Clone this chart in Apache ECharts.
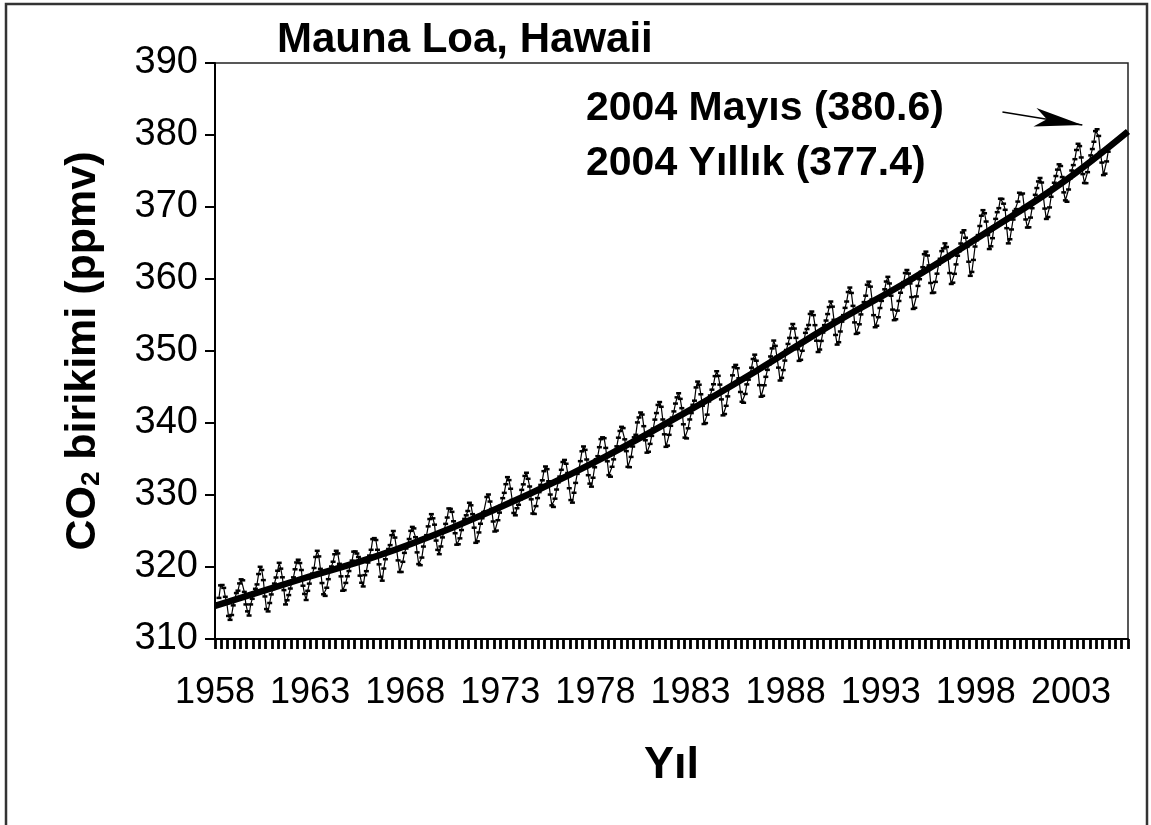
<!DOCTYPE html>
<html>
<head>
<meta charset="utf-8">
<script src="https://cdn.jsdelivr.net/npm/echarts@6/dist/echarts.min.js"></script>
<style>
  html, body { margin: 0; padding: 0; background: #fff; }
  #chart { width: 1151px; height: 825px; }
</style>
</head>
<body>
<div id="chart"></div>
<script>
// aylik CO2 (ppmv), Mauna Loa, 1958 Mart - 2004 Aralik
const startYear = 1958
const startMonth = 3
const monthlyCO2 = [
  315.71, 317.45, 317.50, 317.10, 315.86, 314.93, 313.20, 312.66, 313.33, 314.67, // 1958
  315.62, 316.38, 316.71, 317.72, 318.29, 318.15, 316.54, 314.80, 313.84, 313.26, 314.80, 315.58, // 1959
  316.43, 316.97, 317.58, 319.02, 320.03, 319.59, 318.18, 315.91, 314.16, 313.83, 315.00, 316.19,
  316.93, 317.70, 318.54, 319.48, 320.58, 319.77, 318.57, 316.79, 314.80, 315.38, 316.10, 317.01,
  317.94, 318.56, 319.68, 320.63, 321.01, 320.55, 319.58, 317.40, 316.26, 315.42, 316.69, 317.69,
  318.74, 319.08, 319.86, 321.39, 322.25, 321.47, 319.74, 317.77, 316.21, 315.99, 317.12, 318.31, // 1963
  319.57, 320.07, 320.73, 321.77, 322.25, 321.89, 320.44, 318.70, 316.70, 316.79, 317.79, 318.71,
  319.44, 320.44, 320.89, 322.13, 322.16, 321.87, 321.39, 318.80, 317.81, 317.30, 318.87, 319.42,
  320.62, 321.59, 322.39, 323.87, 324.01, 323.75, 322.39, 320.37, 318.64, 318.10, 319.79, 321.08,
  322.07, 322.50, 323.04, 324.42, 325.00, 324.09, 322.55, 320.92, 319.31, 319.31, 320.72, 321.96,
  322.57, 323.15, 323.89, 325.02, 325.57, 325.36, 324.14, 322.03, 320.41, 320.25, 321.31, 322.84, // 1968
  324.00, 324.42, 325.64, 326.66, 327.34, 326.76, 325.88, 323.67, 322.38, 321.78, 322.85, 324.11,
  325.03, 325.99, 326.87, 328.13, 328.07, 327.66, 326.35, 324.69, 323.10, 323.16, 323.98, 325.13,
  326.17, 326.68, 327.18, 327.78, 328.92, 328.57, 327.34, 325.46, 323.36, 323.57, 324.80, 326.01,
  326.77, 327.63, 327.75, 329.72, 330.07, 329.09, 328.05, 326.32, 324.93, 325.06, 326.50, 327.55,
  328.54, 329.56, 330.30, 331.50, 332.48, 332.07, 330.87, 329.31, 327.51, 327.18, 328.16, 328.64, // 1973
  329.35, 330.71, 331.48, 332.65, 333.09, 332.25, 331.18, 329.40, 327.43, 327.37, 328.46, 329.57,
  330.40, 331.40, 332.04, 333.31, 333.96, 333.59, 331.91, 330.06, 328.56, 328.34, 329.49, 330.76,
  331.75, 332.56, 333.50, 334.58, 334.87, 334.34, 333.05, 330.94, 329.30, 328.94, 330.31, 331.68,
  332.93, 333.42, 334.70, 336.07, 336.74, 336.27, 334.93, 332.75, 331.58, 331.16, 332.40, 333.85,
  334.97, 335.39, 336.64, 337.76, 338.01, 337.89, 336.54, 334.68, 332.76, 332.54, 333.92, 334.95, // 1978
  336.23, 336.76, 337.96, 338.89, 339.47, 339.29, 337.73, 336.09, 333.91, 333.86, 335.29, 336.73,
  338.01, 338.36, 340.08, 340.77, 341.46, 341.17, 339.56, 337.60, 335.88, 336.01, 337.10, 338.21,
  339.23, 340.47, 341.38, 342.51, 342.91, 342.25, 340.49, 338.43, 336.69, 336.86, 338.36, 339.61,
  340.75, 341.61, 342.70, 343.56, 344.13, 343.35, 342.06, 339.82, 337.97, 337.86, 339.26, 340.49,
  341.38, 342.52, 343.10, 344.94, 345.75, 345.32, 343.99, 342.39, 339.86, 339.99, 341.16, 342.99, // 1983
  343.82, 344.63, 345.38, 346.51, 347.19, 346.55, 345.33, 343.28, 341.06, 341.25, 342.39, 343.70,
  344.92, 345.25, 346.62, 347.75, 348.07, 347.61, 346.21, 344.31, 342.95, 342.81, 344.04, 345.36,
  346.02, 346.77, 347.68, 348.89, 349.49, 348.65, 347.39, 345.26, 343.65, 343.78, 345.24, 346.41,
  347.38, 348.12, 349.24, 350.36, 351.45, 350.71, 349.20, 347.69, 345.90, 346.27, 347.35, 348.67,
  350.14, 350.98, 351.82, 353.13, 353.75, 353.12, 351.82, 350.24, 348.63, 348.78, 350.03, 351.34, // 1988
  352.52, 353.05, 353.61, 355.15, 355.48, 354.98, 353.59, 351.43, 349.86, 350.20, 351.40, 352.56,
  353.59, 354.23, 355.13, 356.10, 356.87, 356.16, 354.33, 352.23, 350.89, 351.22, 352.71, 354.08,
  354.98, 355.99, 356.87, 358.19, 358.81, 358.06, 356.27, 353.97, 352.37, 352.52, 353.71, 355.08,
  356.11, 356.79, 357.68, 359.20, 359.63, 358.94, 357.16, 354.98, 353.30, 353.51, 354.69, 355.97,
  356.96, 357.68, 358.57, 359.65, 360.30, 359.38, 357.68, 355.75, 354.28, 354.41, 355.61, 356.95, // 1993
  358.09, 358.85, 359.57, 360.83, 361.25, 360.76, 359.38, 357.49, 355.84, 356.00, 357.58, 359.04,
  359.97, 361.00, 361.64, 363.45, 363.80, 363.26, 361.89, 359.45, 358.05, 358.12, 359.60, 360.74,
  362.00, 362.81, 363.87, 364.25, 364.95, 364.45, 362.86, 360.83, 359.31, 359.49, 360.72, 362.03,
  363.23, 363.86, 364.93, 366.46, 366.77, 365.73, 364.46, 362.40, 360.44, 360.98, 362.65, 364.51,
  365.39, 366.10, 367.36, 368.79, 369.56, 369.13, 367.98, 366.10, 364.16, 364.54, 365.67, 367.30, // 1998
  368.35, 369.28, 369.84, 371.15, 371.12, 370.46, 369.61, 367.06, 364.95, 365.52, 366.88, 368.26,
  369.45, 369.71, 370.75, 371.98, 371.75, 371.87, 370.02, 368.27, 367.15, 367.18, 368.53, 369.83,
  370.76, 371.69, 372.63, 373.55, 374.03, 373.40, 371.68, 369.78, 368.34, 368.61, 369.94, 371.42,
  372.70, 373.37, 374.30, 375.19, 375.93, 375.69, 374.16, 372.03, 370.92, 370.73, 372.43, 373.98,
  375.07, 375.82, 376.64, 377.92, 378.78, 378.46, 376.88, 374.57, 373.34, 373.31, 374.84, 376.17, // 2003
  377.17, 378.05, 379.06, 380.54, 380.80, 379.87, 377.65, 376.17, 374.43, 374.63, 376.33, 377.68  // 2004
]

// kalin egilim cizgisi
const trendYears  = [1958.0, 1962.5, 1966.5, 1970.5, 1974.5, 1978.5, 1982.5, 1986.5, 1990.5, 1994.5, 1998.5, 2002.5, 2006.0]
const trendValues = [314.6, 318.3, 321.5, 325.5, 330.1, 335.3, 341.1, 347.3, 353.8, 359.8, 366.4, 373.3, 380.5]

const yearLabels = [1958, 1963, 1968, 1973, 1978, 1983, 1988, 1993, 1998, 2003]

// ok: 2004 Mayis
const arrowFrom = [1999.4, 383.2]
const arrowTo = [2003.6, 381.4]

const FONT = '"Liberation Sans", Arial, sans-serif'

const monthlyPoints = monthlyCO2.map((v, i) => {
  const m = startMonth - 1 + i
  return [startYear + (m + 0.5) / 12, v]
})
const trendPoints = trendYears.map((t, i) => [t, trendValues[i]])

// her 4 ayda bir tik
const tickValues = []
for (let k = 0; k <= 144; k++) tickValues.push(1958 + k / 3)

const chart = echarts.init(document.getElementById('chart'))

const option = {
  backgroundColor: '#fff',
  animation: false,
  title: {
    text: 'Mauna Loa, Hawaii',
    left: 272,
    top: 14,
    textStyle: { fontFamily: FONT, fontSize: 42, fontWeight: 'bold', color: '#000' }
  },
  grid: {
    left: 215,
    right: 23,
    top: 63,
    bottom: 186,
    show: true,
    borderColor: '#222',
    borderWidth: 1.5,
    backgroundColor: '#fff'
  },
  xAxis: {
    type: 'value',
    min: 1958,
    max: 2006,
    name: 'Yıl',
    nameLocation: 'middle',
    nameGap: 104,
    nameTextStyle: { fontFamily: FONT, fontSize: 45, fontWeight: 'bold', color: '#000' },
    axisLine: { lineStyle: { color: '#000', width: 2 } },
    axisTick: {
      show: true,
      customValues: tickValues,
      length: 10,
      inside: false,
      lineStyle: { color: '#000', width: 2.8 }
    },
    axisLabel: {
      customValues: yearLabels,
      formatter: v => String(v),
      margin: 36,
      fontFamily: FONT,
      fontSize: 36,
      color: '#000'
    },
    splitLine: { show: false }
  },
  yAxis: {
    type: 'value',
    min: 310,
    max: 390,
    interval: 10,
    name: '{b|CO}{s|2}{b| birikimi (ppmv)}',
    nameLocation: 'middle',
    nameRotate: 90,
    nameGap: 110,
    nameTextStyle: {
      rich: {
        b: { fontFamily: FONT, fontSize: 43, fontWeight: 'bold', color: '#000' },
        s: { fontFamily: FONT, fontSize: 26, fontWeight: 'bold', color: '#000', lineHeight: 17, verticalAlign: 'bottom' }
      }
    },
    axisLine: { show: true, lineStyle: { color: '#000', width: 2 } },
    axisTick: { show: true, length: 10, lineStyle: { color: '#000', width: 2 } },
    axisLabel: { margin: 17, fontFamily: FONT, fontSize: 38, color: '#000' },
    splitLine: { show: false }
  },
  series: [
    {
      name: 'Aylık',
      type: 'line',
      data: monthlyPoints,
      showSymbol: true,
      symbol: 'rect',
      symbolSize: [5, 2.5],
      itemStyle: { color: '#000' },
      lineStyle: { color: '#000', width: 1.2 },
      z: 2,
      markLine: {
        silent: true,
        symbol: ['none', 'arrow'],
        symbolSize: [14, 48],
        label: { show: false },
        lineStyle: { color: '#000', width: 1.5, type: 'solid' },
        data: [[{ coord: arrowFrom }, { coord: arrowTo }]]
      }
    },
    {
      name: 'Yıllık',
      type: 'line',
      data: trendPoints,
      smooth: 0.4,
      showSymbol: false,
      lineStyle: { color: '#000', width: 6.5 },
      z: 3
    }
  ],
  graphic: [
    {
      type: 'rect',
      shape: { x: 6, y: 4, width: 1141, height: 840 },
      style: { fill: 'none', stroke: '#333', lineWidth: 2.5 },
      z: 100
    },
    {
      type: 'text',
      left: 586,
      top: 88,
      style: { text: '2004 Mayıs (380.6)', font: 'bold 41px ' + FONT, fill: '#000' }
    },
    {
      type: 'text',
      left: 586,
      top: 143,
      style: { text: '2004 Yıllık (377.4)', font: 'bold 41px ' + FONT, fill: '#000' }
    }
  ]
}

chart.setOption(option)
</script>
</body>
</html>
